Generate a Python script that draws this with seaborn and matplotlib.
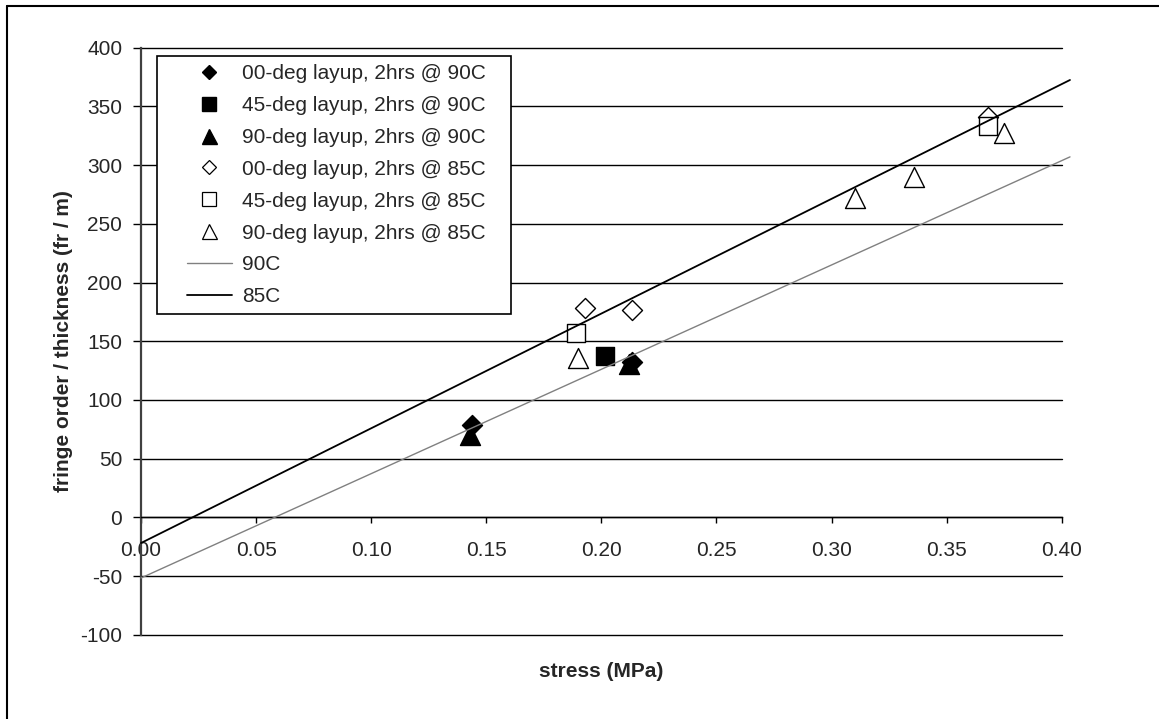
import numpy as np
import matplotlib
matplotlib.use('Agg')
import matplotlib.pyplot as plt
from matplotlib.lines import Line2D
from matplotlib.patches import Rectangle
import seaborn as sns

# readings: stress (MPa) vs fringe order / thickness (fr / m)
x_00_90 = [0.144, 0.2135]
y_00_90 = [79, 132]
x_45_90 = [0.2015]
y_45_90 = [137]
x_90_90 = [0.143, 0.212]
y_90_90 = [70, 131]

x_00_85 = [0.193, 0.2135, 0.368]
y_00_85 = [178, 177, 341]
x_45_85 = [0.189, 0.368]
y_45_85 = [157, 333]
x_90_85 = [0.190, 0.310, 0.336, 0.375]
y_90_85 = [136, 272, 290, 327]

# trendline end points
trend_x = [0.0, 0.4036]
trend_90 = [-51.7, 307.0]
trend_85 = [-21.9, 372.5]

labels = ['00-deg layup, 2hrs @ 90C', '45-deg layup, 2hrs @ 90C', '90-deg layup, 2hrs @ 90C',
          '00-deg layup, 2hrs @ 85C', '45-deg layup, 2hrs @ 85C', '90-deg layup, 2hrs @ 85C',
          '90C', '85C']
x_ticks = [0.00, 0.05, 0.10, 0.15, 0.20, 0.25, 0.30, 0.35, 0.40]
y_ticks = [-100, -50, 0, 50, 100, 150, 200, 250, 300, 350, 400]

sns.set_style('white')
plt.rcParams['font.family'] = ['Liberation Sans', 'DejaVu Sans']
plt.rcParams['axes.unicode_minus'] = False

W, H = 1159, 719
fig = plt.figure(figsize=(W / 100, H / 100), dpi=100, facecolor='white')
ax = fig.add_axes([141 / W, 1 - 634.7 / H, (1061.7 - 141) / W, (634.7 - 47.7) / H])

# series: x, y, marker, face, size
series = [
    (x_00_90, y_00_90, 'D', 'black', 104),
    (x_45_90, y_45_90, 's', 'black', 169),
    (x_90_90, y_90_90, '^', 'black', 207),
    (x_00_85, y_00_85, 'D', 'white', 104),
    (x_45_85, y_45_85, 's', 'white', 169),
    (x_90_85, y_90_85, '^', 'white', 207),
]
for xs, ys, mk, fc, sz in series:
    sns.scatterplot(x=xs, y=ys, ax=ax, marker=mk, s=sz, color=fc,
                    edgecolor='black', linewidth=1.0, legend=False, zorder=2)

sns.lineplot(x=trend_x, y=trend_90, ax=ax, color='#808080', linewidth=1.0,
             clip_on=False, zorder=3)
sns.lineplot(x=trend_x, y=trend_85, ax=ax, color='black', linewidth=1.3,
             clip_on=False, zorder=3)

ax.set_xlim(0, 0.40)
ax.set_ylim(-100, 400)
ax.set_xticks(x_ticks)
ax.set_xticklabels([f'{t:.2f}' for t in x_ticks])
ax.set_yticks(y_ticks)

ax.set_axisbelow(True)
ax.yaxis.grid(True, color='black', linewidth=1)
ax.xaxis.grid(False)
for gl in ax.get_ygridlines():
    gl.set_clip_on(False)

for s in ['top', 'right']:
    ax.spines[s].set_visible(False)
ax.spines['bottom'].set_position(('data', 0))
ax.spines['bottom'].set_color('black')
ax.spines['bottom'].set_linewidth(1)
ax.spines['left'].set_color('#404040')
ax.spines['left'].set_linewidth(1.6)

ax.tick_params(axis='y', direction='out', length=5.5, width=1, pad=8,
               labelsize=15, color='black', left=True)
ax.tick_params(axis='x', direction='out', length=4.5, width=1, pad=12.4,
               labelsize=15, color='black', bottom=True)

ax.set_xlabel('stress (MPa)', fontsize=15, fontweight='bold')
ax.xaxis.set_label_coords(0.5, -0.063)
ax.xaxis.label.set_verticalalignment('center')
ax.set_ylabel('fringe order / thickness (fr / m)', fontsize=15, fontweight='bold', labelpad=5)

# legend box and entries
box = Rectangle((157 / W, 1 - 314 / H), (511 - 157) / W, (314 - 56) / H,
                transform=fig.transFigure, facecolor='white', edgecolor='black',
                linewidth=1.2, zorder=4, clip_on=False)
ax.add_patch(box)

handles = [
    Line2D([], [], linestyle='none', marker='D', markersize=7.6, markerfacecolor='black', markeredgecolor='black'),
    Line2D([], [], linestyle='none', marker='s', markersize=9.4, markerfacecolor='black', markeredgecolor='black'),
    Line2D([], [], linestyle='none', marker='^', markersize=10.8, markerfacecolor='black', markeredgecolor='black'),
    Line2D([], [], linestyle='none', marker='D', markersize=7.6, markerfacecolor='white', markeredgecolor='black', markeredgewidth=0.9),
    Line2D([], [], linestyle='none', marker='s', markersize=9.4, markerfacecolor='white', markeredgecolor='black', markeredgewidth=0.9),
    Line2D([], [], linestyle='none', marker='^', markersize=10.8, markerfacecolor='white', markeredgecolor='black', markeredgewidth=0.9),
    Line2D([], [], color='#808080', linewidth=1.0),
    Line2D([], [], color='black', linewidth=1.3),
]
leg = ax.legend(handles, labels, loc='upper left',
                bbox_to_anchor=(186.7 / W, 1 - 64 / H), bbox_transform=fig.transFigure,
                frameon=False, fontsize=15, handlelength=2.16, handletextpad=0.48,
                labelspacing=0.62, borderpad=0, borderaxespad=0)
leg.set_zorder(5)

# outer chart frame (only left and top edges fall inside the image)
fig.add_artist(Line2D([7 / W, 7 / W], [0, 1 - 6 / H], transform=fig.transFigure, color='black', linewidth=1.5))
fig.add_artist(Line2D([7 / W, 1], [1 - 6 / H, 1 - 6 / H], transform=fig.transFigure, color='black', linewidth=1.5))

fig.savefig('out.png', dpi=100)
